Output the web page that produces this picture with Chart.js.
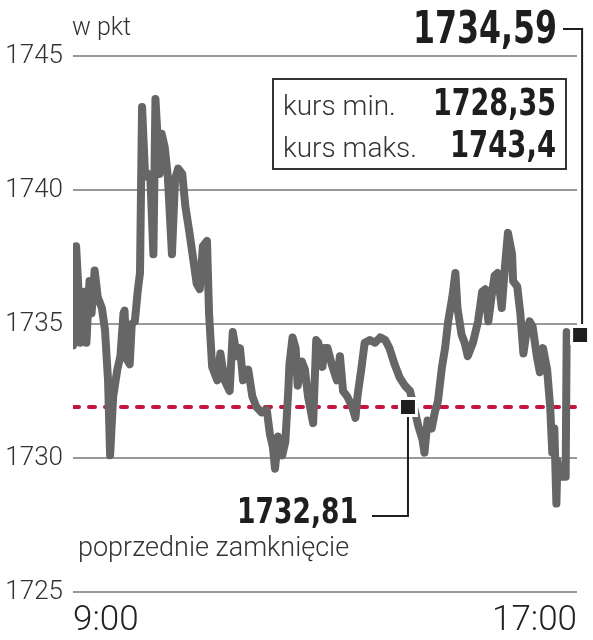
<!DOCTYPE html>
<html>
<head>
<meta charset="utf-8">
<script src="https://cdn.jsdelivr.net/npm/chart.js@4.4.1/dist/chart.umd.min.js"></script>
<style>
  html, body { margin: 0; padding: 0; background: #fff; }
</style>
</head>
<body>
<canvas id="chart" width="593" height="640"></canvas>
<script>
// minutes after 9:00 and index value (pkt)
const minutes = [
  0, 1, 3, 5, 7, 9, 11, 13, 16, 18, 21, 24, 28, 31, 34, 36, 39, 43, 46, 49,
  50, 52, 55, 57, 60, 63, 65, 67, 70, 73, 75, 78, 80, 84, 86, 89, 92, 96, 99, 102,
  106, 109, 113, 116, 120, 123, 126, 130, 132, 135, 140, 143, 147, 152, 155, 159, 162, 165, 170, 174,
  178, 183, 188, 191, 194, 196, 199, 203, 206, 209, 210, 213, 216, 218, 222, 225, 228, 233, 236, 238,
  242, 244, 247, 251, 256, 259, 262, 266, 271, 274, 276, 280, 283, 288, 293, 298, 303, 307, 312, 317,
  322, 327, 332, 335, 339, 341, 344, 348, 351, 354, 358, 361, 364, 368, 371, 373, 377, 380, 383, 388,
  393, 397, 400, 403, 406, 409, 412, 416, 419, 422, 426, 427, 431, 434, 437, 440, 443, 446, 450, 453,
  456, 460, 463, 465, 467, 469, 470, 472, 478, 479, 480
];
const prices = [
  1734.2, 1735.5, 1737.9, 1736.5, 1734.3, 1735.5, 1736.2, 1734.3, 1736.6, 1735.4, 1737.0, 1736.0, 1735.6, 1734.8, 1732.9, 1730.1, 1732.3, 1733.3, 1733.8, 1735.4,
  1735.5, 1733.7, 1733.5, 1735.0, 1735.1, 1736.3, 1736.9, 1743.1, 1740.5, 1740.6, 1740.5, 1737.6, 1743.4, 1740.6, 1742.1, 1741.6, 1740.5, 1737.6, 1740.4, 1740.8,
  1740.6, 1739.4, 1738.4, 1737.6, 1736.5, 1736.3, 1737.9, 1738.1, 1735.4, 1733.4, 1732.9, 1733.9, 1732.9, 1732.5, 1734.7, 1733.8, 1734.1, 1732.9, 1733.3, 1732.3,
  1731.9, 1731.7, 1731.8, 1730.9, 1730.4, 1729.6, 1730.8, 1730.1, 1730.6, 1732.6, 1733.5, 1734.5, 1734.1, 1732.7, 1733.6, 1733.3, 1732.3, 1731.3, 1734.4, 1734.3,
  1733.4, 1734.1, 1734.1, 1733.5, 1732.9, 1733.8, 1732.5, 1732.3, 1731.9, 1731.5, 1732.3, 1733.4, 1734.3, 1734.4, 1734.3, 1734.5, 1734.4, 1734.1, 1733.5, 1733.0,
  1732.7, 1732.5, 1731.7, 1731.2, 1730.7, 1730.2, 1731.4, 1731.1, 1731.7, 1732.1, 1733.4, 1734.1, 1735.1, 1736.0, 1736.9, 1735.6, 1734.6, 1734.3, 1733.8, 1734.3,
  1735.1, 1736.2, 1736.3, 1735.1, 1736.0, 1736.8, 1736.9, 1735.6, 1737.1, 1738.4, 1737.6, 1736.6, 1736.4, 1735.4, 1733.9, 1734.7, 1735.1, 1734.9, 1733.8, 1733.2,
  1734.1, 1733.3, 1731.9, 1730.2, 1731.1, 1728.3, 1729.9, 1729.3, 1729.3, 1734.7, 1734.6
];

const yTicks = [1725, 1730, 1735, 1740, 1745];
const xTicks = [0, 489];
const xTickLabels = ['9:00', '17:00'];

// previous close: level as drawn in the picture, and its label
const prevCloseTime = 325;
const prevCloseLevel = 1731.9;
const prevCloseLabel = '1732,81';
const prevCloseCaption = 'poprzednie zamknięcie';

const lastTime = 492;
const lastValue = 1734.59;
const lastLabel = '1734,59';

const minLabel = 'kurs min.';
const minValue = '1728,35';
const maxLabel = 'kurs maks.';
const maxValue = '1743,4';
const unitLabel = 'w pkt';

const LIGHT = 'Roboto, "Noto Sans", sans-serif';
const BOLD = '"DejaVu Sans Condensed", "DejaVu Sans", sans-serif';
const INK = '#1e1e1e';

// bold condensed numbers: squeeze the text to the width it has in the picture
function fitText(ctx, text, right, base, width) {
  const w = ctx.measureText(text).width;
  ctx.save();
  ctx.translate(right, base);
  ctx.scale(width / w, 1);
  ctx.textAlign = 'right';
  ctx.fillText(text, 0, 0);
  ctx.restore();
}

const annotations = {
  id: 'annotations',
  afterDraw(chart) {
    const ctx = chart.ctx;
    const x = chart.scales.x, y = chart.scales.y;
    ctx.save();
    ctx.textBaseline = 'alphabetic';

    // unit
    ctx.fillStyle = '#333';
    ctx.font = '300 25px ' + LIGHT;
    ctx.textAlign = 'left';
    ctx.fillText(unitLabel, 72, 35);

    // last value label + leader
    const lx = x.getPixelForValue(lastTime);
    const ly = y.getPixelForValue(lastValue);
    ctx.strokeStyle = INK;
    ctx.lineWidth = 2;
    ctx.beginPath();
    ctx.moveTo(563, 29);
    ctx.lineTo(lx + 2, 29);
    ctx.lineTo(lx + 2, ly - 11);
    ctx.stroke();
    ctx.fillStyle = INK;
    ctx.font = 'bold 45px ' + BOLD;
    fitText(ctx, lastLabel, 557, 43, 144);

    // min / max box
    ctx.fillStyle = '#fff';
    ctx.fillRect(273, 79, 293, 90);
    ctx.strokeStyle = '#333';
    ctx.lineWidth = 2;
    ctx.strokeRect(273, 79, 293, 90);
    ctx.fillStyle = '#333';
    ctx.font = '300 28px ' + LIGHT;
    ctx.textAlign = 'left';
    ctx.fillText(minLabel, 283, 115);
    ctx.fillText(maxLabel, 283, 157);
    ctx.fillStyle = INK;
    ctx.font = 'bold 37px ' + BOLD;
    fitText(ctx, minValue, 556, 115, 123);
    fitText(ctx, maxValue, 556, 157, 106);

    // previous close leader + labels
    const px = x.getPixelForValue(prevCloseTime);
    const py = y.getPixelForValue(prevCloseLevel);
    ctx.strokeStyle = INK;
    ctx.lineWidth = 2;
    ctx.beginPath();
    ctx.moveTo(px, py + 10);
    ctx.lineTo(px, 516);
    ctx.lineTo(372, 516);
    ctx.stroke();
    ctx.fillStyle = INK;
    ctx.font = 'bold 36px ' + BOLD;
    fitText(ctx, prevCloseLabel, 358, 523, 121);
    ctx.fillStyle = '#333';
    ctx.font = '300 27px ' + LIGHT;
    ctx.textAlign = 'left';
    ctx.fillText(prevCloseCaption, 78, 556);

    ctx.restore();
  }
};

new Chart(document.getElementById('chart'), {
  type: 'line',
  data: {
    datasets: [
      {
        type: 'scatter',
        data: [{ x: prevCloseTime, y: prevCloseLevel }, { x: lastTime, y: lastValue }],
        pointStyle: 'rect',
        pointRadius: 12,
        backgroundColor: '#1e1e1e',
        borderColor: '#fff',
        borderWidth: 3,
        clip: false,
        order: 0
      },
      {
        data: minutes.map((m, i) => ({ x: m, y: prices[i] })),
        borderColor: '#666',
        borderWidth: 8,
        borderJoinStyle: 'round',
        borderCapStyle: 'round',
        pointRadius: 0,
        tension: 0,
        order: 1
      },
      {
        data: [{ x: xTicks[0], y: prevCloseLevel }, { x: xTicks[1], y: prevCloseLevel }],
        borderColor: '#c6143c',
        borderWidth: 4,
        borderDash: [6, 10],
        borderCapStyle: 'round',
        pointRadius: 0,
        order: 2
      }
    ]
  },
  options: {
    responsive: false,
    devicePixelRatio: 1,
    animation: false,
    layout: { padding: { top: 56, right: 16, left: 0, bottom: 0 } },
    plugins: { legend: { display: false }, tooltip: { enabled: false } },
    scales: {
      x: {
        type: 'linear',
        min: xTicks[0],
        max: xTicks[1],
        afterBuildTicks: (axis) => { axis.ticks = xTicks.map((v) => ({ value: v })); },
        afterFit: (axis) => { axis.height = 48; },
        ticks: {
          callback: (v, i) => xTickLabels[i],
          align: 'inner',
          autoSkip: false,
          maxRotation: 0,
          color: '#222',
          padding: 0,
          font: { family: LIGHT, size: 35, weight: 300 }
        },
        grid: { display: false },
        border: { display: false }
      },
      y: {
        min: yTicks[0],
        max: yTicks[yTicks.length - 1],
        afterBuildTicks: (axis) => { axis.ticks = yTicks.map((v) => ({ value: v })); },
        afterFit: (axis) => { axis.width = 73; },
        ticks: {
          callback: (v) => String(v),
          color: '#333',
          padding: 10,
          font: { family: LIGHT, size: 26, weight: 300 }
        },
        grid: { color: '#999', lineWidth: 2, drawTicks: false },
        border: { display: false }
      }
    }
  },
  plugins: [annotations]
});
</script>
</body>
</html>
